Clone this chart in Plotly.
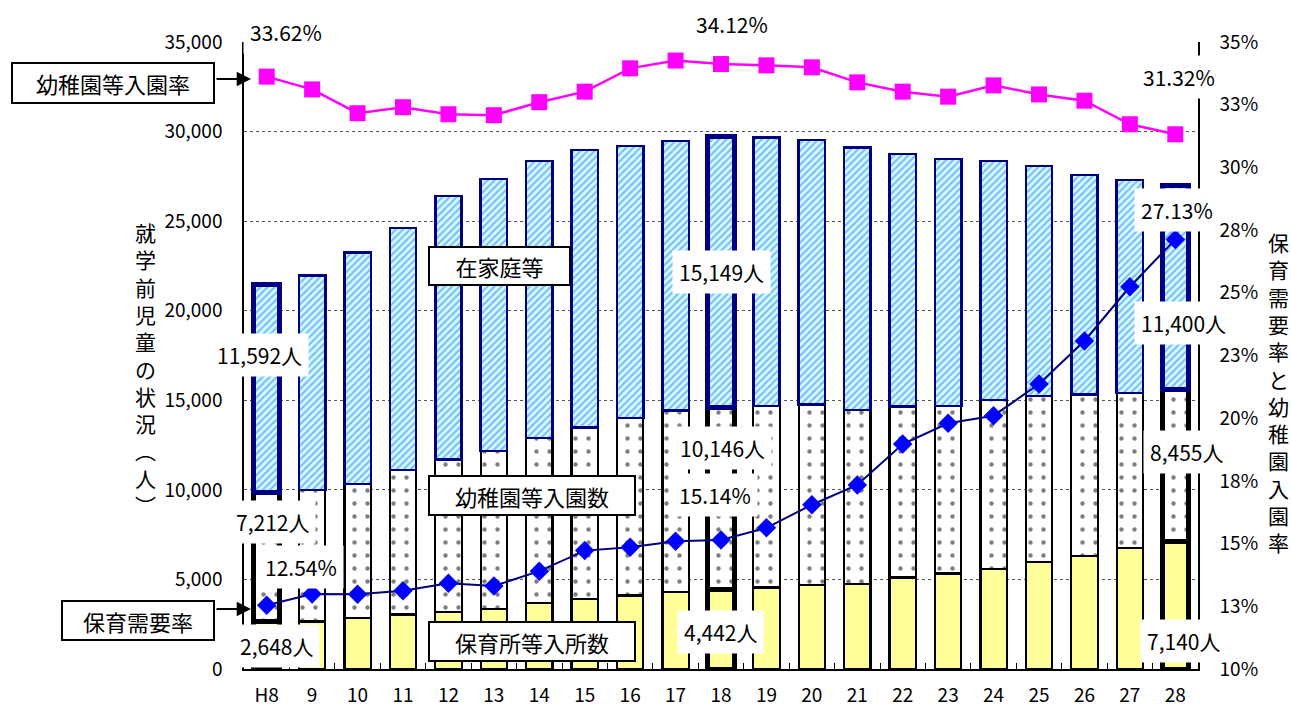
import plotly.graph_objects as go

# ---------------- data ----------------
categories = ["H8", "9", "10", "11", "12", "13", "14", "15", "16", "17", "18",
              "19", "20", "21", "22", "23", "24", "25", "26", "27", "28"]

# 保育所等入所数
hoikusho = [2648, 2650, 2850, 3040, 3185, 3335, 3690, 3910, 4100, 4285, 4442,
            4550, 4690, 4730, 5105, 5330, 5590, 5960, 6310, 6760, 7140]
# 幼稚園等入園数
youchien = [7212, 7350, 7490, 8060, 8515, 8825, 9210, 9580, 9920, 10155, 10146,
            10130, 10080, 9720, 9535, 9360, 9420, 9290, 9020, 8660, 8455]
# 在家庭等
zaikatei = [11592, 11960, 12900, 13520, 14710, 15200, 15465, 15470, 15180, 15040, 15149,
            14990, 14750, 14660, 14115, 13770, 13355, 12835, 12255, 11870, 11400]
# 幼稚園等入園率 (%)
youchien_rate = [33.62, 33.11, 32.16, 32.40, 32.12, 32.08, 32.60, 33.02, 33.95, 34.26, 34.12,
                 34.07, 33.99, 33.39, 33.02, 32.82, 33.27, 32.91, 32.66, 31.72, 31.32]
# 保育需要率 (%)
hoiku_rate = [12.54, 12.99, 12.98, 13.12, 13.42, 13.31, 13.90, 14.72, 14.85, 15.09, 15.14,
              15.63, 16.55, 17.34, 18.97, 19.80, 20.10, 21.36, 23.08, 25.24, 27.13]

highlight = ["H8", "18", "28"]

left_ticks = [0, 5000, 10000, 15000, 20000, 25000, 30000, 35000]
right_tickvals = [10, 12.5, 15, 17.5, 20, 22.5, 25, 27.5, 30, 32.5, 35]
right_ticktext = ["10%", "13%", "15%", "18%", "20%", "23%", "25%", "28%", "30%", "33%", "35%"]

FONT = "Noto Sans CJK JP"

lw_black = [5 if c in highlight else 2.2 for c in categories]
lw_navy = [5 if c in highlight else 2.5 for c in categories]

fig = go.Figure()

fig.add_trace(go.Bar(
    x=categories, y=hoikusho, name="保育所等入所数",
    marker=dict(color="#FFFF99", line=dict(color="black", width=lw_black)),
))
fig.add_trace(go.Bar(
    x=categories, y=youchien, name="幼稚園等入園数",
    marker=dict(color="white", line=dict(color="black", width=lw_black),
                pattern=dict(shape=".", fgcolor="#000000", bgcolor="white",
                             size=13, solidity=0.09)),
))
fig.add_trace(go.Bar(
    x=categories, y=zaikatei, name="在家庭等",
    marker=dict(color="#CCFFFF", line=dict(color="#000080", width=lw_navy),
                pattern=dict(shape="/", fgcolor="#3366FF", bgcolor="#CCFFFF",
                             size=5, solidity=0.4)),
))
fig.add_trace(go.Scatter(
    x=categories, y=youchien_rate, yaxis="y2", mode="lines+markers",
    name="幼稚園等入園率",
    line=dict(color="#FF00FF", width=2.5),
    marker=dict(symbol="square", size=16, color="#FF00FF"),
))
fig.add_trace(go.Scatter(
    x=categories, y=hoiku_rate, yaxis="y2", mode="lines+markers",
    name="保育需要率",
    line=dict(color="#000080", width=2),
    marker=dict(symbol="diamond", size=15, color="#0000FF"),
))

# plot area in pixels: x 244..1198, y 42..669
def px(xp):
    return (xp - 244) / 954.0

def py(yp):
    return (669 - yp) / 627.0

annotations = []

# value labels with white background
value_labels = [
    ("33.62%", 286, 32), ("34.12%", 732, 24), ("31.32%", 1179, 77),
    ("27.13%", 1177, 210), ("11,400人", 1183, 323), ("8,455人", 1186, 452),
    ("7,140人", 1183, 641), ("15,149人", 721, 272), ("10,146人", 722, 448),
    ("15.14%", 715, 495), ("4,442人", 720, 632), ("11,592人", 259, 355),
    ("7,212人", 272, 522), ("12.54%", 301, 567), ("2,648人", 276, 646),
]
for t, x, y in value_labels:
    annotations.append(dict(
        text=t, xref="paper", yref="paper", x=px(x), y=py(y),
        xanchor="center", yanchor="middle", showarrow=False,
        font=dict(family=FONT, size=21, color="black"),
        bgcolor="white", borderpad=6,
    ))

# boxed series labels
boxed = [
    ("幼稚園等入園率", 113, 83, 200, 38),
    ("保育需要率", 138, 620, 150, 37),
    ("在家庭等", 499, 266, 139, 36),
    ("幼稚園等入園数", 532, 495, 204, 37),
    ("保育所等入所数", 532, 641, 204, 37),
]
for t, x, y, w, h in boxed:
    annotations.append(dict(
        text=t, xref="paper", yref="paper", x=px(x), y=py(y),
        xanchor="center", yanchor="middle", showarrow=False,
        font=dict(family=FONT, size=22, color="black"),
        bgcolor="white", bordercolor="black", borderwidth=2, borderpad=0,
        width=w, height=h,
    ))

# arrows
for y in (79, 609):
    annotations.append(dict(
        text="", xref="paper", yref="paper", x=px(251), y=py(y),
        showarrow=True, ax=-36, ay=0, axref="pixel", ayref="pixel",
        arrowhead=2, arrowsize=1.3, arrowwidth=2.2, arrowcolor="black",
    ))

# vertical axis titles
left_title = ["就", "学", "前", "児", "童", "の", "状", "況", "︵", "人", "︶"]
right_title = ["保", "育", "需", "要", "率", "と", "幼", "稚", "園", "入", "園", "率"]
annotations.append(dict(
    text="<br>".join(left_title), xref="paper", yref="paper",
    x=px(145), y=py(368), xanchor="center", yanchor="middle", showarrow=False,
    font=dict(family=FONT, size=21, color="black"),
))
annotations.append(dict(
    text="<br>".join(right_title), xref="paper", yref="paper",
    x=px(1278), y=py(392), xanchor="center", yanchor="middle", showarrow=False,
    font=dict(family=FONT, size=21, color="black"),
))

fig.update_layout(
    width=1291, height=709,
    margin=dict(l=244, r=93, t=42, b=40, autoexpand=False),
    barmode="stack", bargap=0.42,
    paper_bgcolor="white", plot_bgcolor="white",
    showlegend=False,
    font=dict(family=FONT, size=19, color="black"),
    xaxis=dict(type="category", range=[-0.5, len(categories) - 0.5], autorange=False,
               automargin=False,
               showline=True, linecolor="black", linewidth=1.5,
               ticks="inside", tickson="boundaries", ticklen=6, tickcolor="black",
               tickfont=dict(family=FONT, size=19), ticklabelstandoff=8),
    yaxis=dict(range=[0, 35000], tickvals=left_ticks, tickformat=",", automargin=False,
               showgrid=True, gridcolor="#555555", griddash="dot", gridwidth=1,
               showline=True, linecolor="black", linewidth=1.5, zeroline=False,
               ticks="", tickfont=dict(family=FONT, size=19), ticklabelstandoff=16),
    yaxis2=dict(overlaying="y", side="right", range=[10, 35], automargin=False,
                tickvals=right_tickvals, ticktext=right_ticktext,
                showgrid=False, showline=True, linecolor="black", linewidth=1.5,
                zeroline=False, ticks="", tickfont=dict(family=FONT, size=19),
                ticklabelstandoff=16),
    annotations=annotations,
)

fig.write_html("out.html")
